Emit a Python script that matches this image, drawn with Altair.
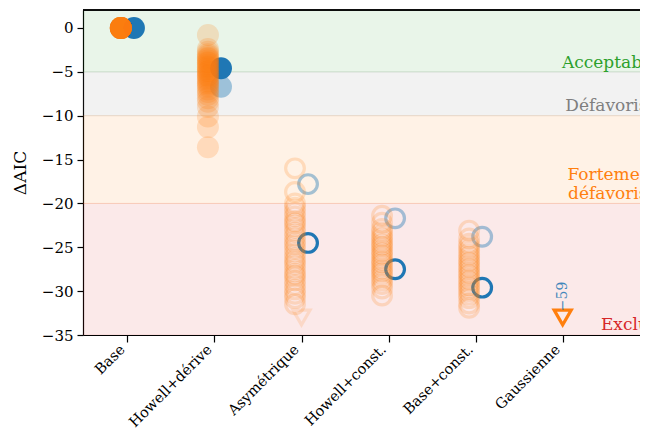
import altair as alt
import pandas as pd

models = ["Base", "Howell+dérive", "Asymétrique", "Howell+const.", "Base+const.", "Gaussienne"]
filled_models = ["Base", "Howell+dérive"]

# orange clouds: ΔAIC of the resampled fits
base_samples = [0.0] * 20
howell_derive_samples = [-0.8, -2.4, -2.7, -3.0, -3.2, -3.4, -3.5, -3.7, -3.9, -4.0, -4.2, -4.4,
                         -4.5, -4.7, -4.9, -5.0, -5.2, -5.4, -5.5, -5.7, -5.9, -6.1, -6.3, -6.5,
                         -6.7, -7.0, -7.3, -7.6, -8.0, -8.4, -9.0, -10.1, -11.3, -13.6]
asym_samples = [-16.0, -18.7, -20.0, -20.5, -21.0, -21.5, -22.0, -22.3, -22.8, -23.3, -23.8,
                -24.3, -24.7, -25.2, -25.7, -26.2, -26.6, -27.0, -27.5, -28.0, -28.3, -28.8,
                -29.3, -29.8, -30.3, -30.8, -31.5]
howell_const_samples = [-21.4, -22.2, -22.9, -23.3, -23.7, -24.0, -24.4, -24.7, -25.0, -25.4,
                        -25.7, -26.0, -26.4, -26.7, -27.0, -27.4, -27.7, -28.0, -28.4, -28.8,
                        -29.2, -29.7, -30.5]
base_const_samples = [-23.1, -24.0, -24.6, -25.0, -25.4, -25.8, -26.1, -26.5, -26.8, -27.2,
                      -27.5, -27.9, -28.2, -28.6, -28.9, -29.3, -29.6, -30.0, -30.4, -30.8,
                      -31.4, -31.9]
gauss_samples = []

# off-scale markers (value below the axis floor)
offscale_models = ["Asymétrique", "Gaussienne"]
offscale_values = [-33.0, -33.0]
offscale_alpha = [0.15, 1.0]
gauss_true_label = "−59"

# blue reference fits
blue_models = ["Base", "Howell+dérive", "Howell+dérive", "Asymétrique", "Asymétrique",
               "Howell+const.", "Howell+const.", "Base+const.", "Base+const."]
blue_values = [0.0, -4.6, -6.7, -24.5, -17.8, -27.5, -21.7, -29.6, -23.8]
blue_alpha = [1.0, 1.0, 0.4, 1.0, 0.4, 1.0, 0.4, 1.0, 0.4]

# zones
band_labels = ["Acceptable", "Défavorisé", "Fortement\ndéfavorisé", "Exclus"]
band_top = [5.0, -5.0, -10.0, -20.0]
band_bottom = [-5.0, -10.0, -20.0, -35.0]
band_colors = ["#2ca02c", "#7f7f7f", "#ff7f0e", "#d62728"]
band_label_y = [-4.55, -9.5, -17.3, -34.4]

W, H = 557, 325
FONT = "DejaVu Serif"
ORANGE = "#ff7f0e"
BLUE = "#1f77b4"

xs = alt.Scale(domain=[-0.51, 5.888], nice=False, zero=False)
ys = alt.Scale(domain=[-35, 2.05], nice=False, zero=False)

# --- dataframes
cloud_rows = []
for m, vals in zip(models, [base_samples, howell_derive_samples, asym_samples,
                            howell_const_samples, base_const_samples, gauss_samples]):
    for v in vals:
        cloud_rows.append({"model": m, "x": models.index(m) - 0.075, "v": v,
                           "filled": m in filled_models})
cloud = pd.DataFrame(cloud_rows)

blue = pd.DataFrame({"model": blue_models, "v": blue_values, "a": blue_alpha})
blue["x"] = [models.index(m) + 0.075 for m in blue_models]
blue["filled"] = [m in filled_models for m in blue_models]

off = pd.DataFrame({"model": offscale_models, "v": offscale_values, "a": offscale_alpha})
off["x"] = [models.index(m) for m in offscale_models]

bands = pd.DataFrame({"label": band_labels, "top": band_top, "bottom": band_bottom,
                      "color": band_colors, "ly": band_label_y})
bands["lx"] = 6.09

gl = pd.DataFrame({"x": [models.index("Gaussienne")], "v": [-30.6], "t": [gauss_true_label]})

label_expr = "[" + ",".join("'" + m + "'" for m in models) + "][datum.value]"

X = lambda f: alt.X(f, type="quantitative", scale=xs,
                    axis=alt.Axis(values=list(range(len(models))), labelExpr=label_expr,
                                  title=None, grid=False, labelAngle=-45, labelAlign="right",
                                  labelBaseline="middle", labelFontSize=14.5, labelFont=FONT,
                                  labelColor="black", tickSize=7, tickColor="black",
                                  tickWidth=1.2, domainColor="black", domainWidth=1.2,
                                  labelPadding=5, labelOffset=-5, labelOverlap=False,
                                  labelBound=False))
Y = lambda f: alt.Y(f, type="quantitative", scale=ys,
                    axis=alt.Axis(values=list(range(-35, 1, 5)), title="ΔAIC", grid=False,
                                  labelFontSize=15, labelFont=FONT, labelColor="black",
                                  tickSize=6, tickColor="black", tickWidth=1.2,
                                  domainColor="black", domainWidth=1.2, labelPadding=4,
                                  labelOverlap=False,
                                  titleFont=FONT, titleFontSize=17, titleFontWeight="normal",
                                  titleColor="black", titlePadding=12))

band_rect = alt.Chart(bands).mark_rect(opacity=0.1, clip=True).encode(
    x=alt.value(0), x2=alt.value(W), y=Y("top"), y2="bottom",
    color=alt.Color("color:N", scale=None))
band_edge_top = alt.Chart(bands).mark_rule(opacity=0.12, strokeWidth=1, clip=True).encode(
    x=alt.value(0), x2=alt.value(W), y=Y("top"), color=alt.Color("color:N", scale=None))
band_edge_bot = alt.Chart(bands).mark_rule(opacity=0.12, strokeWidth=1, clip=True).encode(
    x=alt.value(0), x2=alt.value(W), y=Y("bottom"), color=alt.Color("color:N", scale=None))
band_text = alt.Chart(bands).mark_text(align="right", baseline="alphabetic", font=FONT,
                                       fontSize=17, lineBreak="\n", lineHeight=19).encode(
    x=X("lx"), y=Y("ly"), text="label:N", color=alt.Color("color:N", scale=None))

blue_f = alt.Chart(blue).transform_filter("datum.filled").mark_point(
    shape="circle", filled=True, size=484, color=BLUE, strokeWidth=0).encode(
    x=X("x"), y=Y("v"), opacity=alt.Opacity("a:Q", scale=None))
blue_h = alt.Chart(blue).transform_filter("!datum.filled").mark_point(
    shape="circle", filled=False, size=350, color=BLUE, strokeWidth=3.2).encode(
    x=X("x"), y=Y("v"), opacity=alt.Opacity("a:Q", scale=None))

cloud_f = alt.Chart(cloud).transform_filter("datum.filled").mark_point(
    shape="circle", filled=True, size=484, color=ORANGE, strokeWidth=0, opacity=0.2).encode(
    x=X("x"), y=Y("v"))
cloud_h = alt.Chart(cloud).transform_filter("!datum.filled").mark_point(
    shape="circle", filled=False, size=350, color=ORANGE, strokeWidth=3.2, opacity=0.2).encode(
    x=X("x"), y=Y("v"))

off_m = alt.Chart(off).mark_point(shape="triangle-down", filled=False, size=290, color=ORANGE,
                                  strokeWidth=3.2).encode(
    x=X("x"), y=Y("v"), opacity=alt.Opacity("a:Q", scale=None))

g_text = alt.Chart(gl).mark_text(angle=270, align="center", baseline="middle", font=FONT,
                                 fontSize=14, color=BLUE, opacity=0.85).encode(
    x=X("x"), y=Y("v"), text="t:N")

top_rule = alt.Chart(bands).mark_rule(color="black", strokeWidth=1.2).encode(
    x=alt.value(0), x2=alt.value(W), y=alt.value(0))

chart = alt.layer(band_rect, band_edge_top, band_edge_bot, band_text, blue_f, blue_h,
                  cloud_f, cloud_h, off_m, g_text, top_rule).properties(
    width=W, height=H,
    padding={"left": 75, "top": 2, "right": 0, "bottom": 98},
    autosize=alt.AutoSizeParams(type="none"),
).configure_view(stroke="transparent").configure(font=FONT)

chart.save("out.html", embed_options={"renderer": "svg", "actions": False})
